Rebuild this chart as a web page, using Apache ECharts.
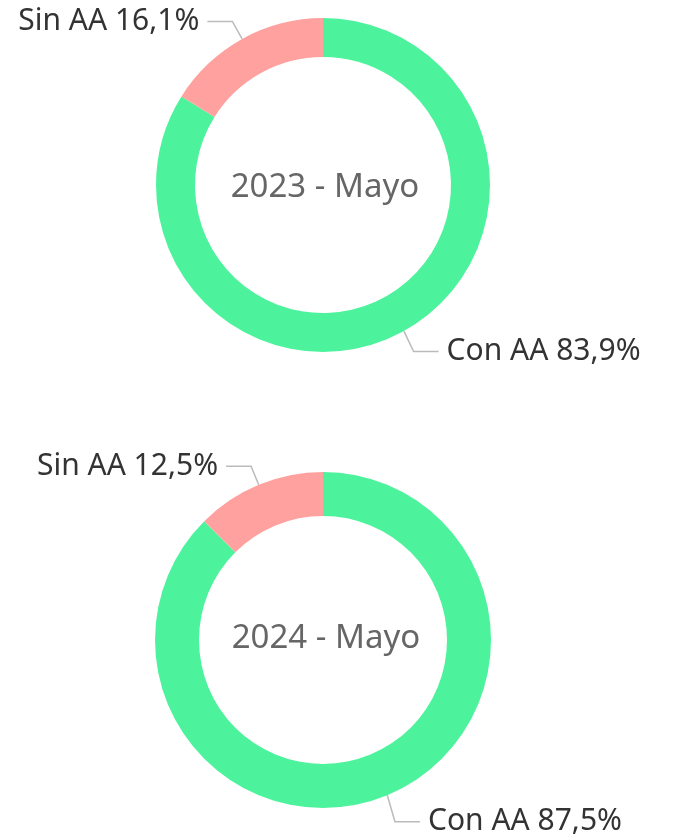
<!DOCTYPE html>
<html>
<head>
<meta charset="utf-8">
<script src="https://cdn.jsdelivr.net/npm/echarts@6/dist/echarts.min.js"></script>
<style>
  html, body { margin: 0; padding: 0; background: #fff; }
  #echart { width: 676px; height: 836px; }
</style>
</head>
<body>
<div id="echart"></div>
<script>
var categories = ['Con AA', 'Sin AA'];
var periods = ['2023 - Mayo', '2024 - Mayo'];
var values2023 = [83.9, 16.1];
var values2024 = [87.5, 12.5];
var colors = ['#4df39c', '#ffa29f'];

function toData(values) {
  return values.map(function (v, i) {
    return { name: categories[i], value: v };
  });
}

function donut(values, center, radius, shiftDown) {
  return {
    type: 'pie',
    radius: radius,
    center: center,
    startAngle: 90,
    clockwise: true,
    avoidLabelOverlap: false,
    silent: true,
    label: {
      show: true,
      position: 'outside',
      formatter: function (p) {
        return p.name + ' ' + p.value.toFixed(1).replace('.', ',') + '%';
      },
      fontFamily: 'Noto Sans',
      fontSize: 30,
      color: '#333',
      distanceToLabelLine: 8
    },
    labelLine: {
      show: true,
      length: 20,
      length2: 25,
      lineStyle: { color: '#bbb', width: 1.5 }
    },
    // push the lower label a little further down, as in the picture
    labelLayout: function (p) {
      if (p.dataIndex !== 0 || !p.labelLinePoints) return {};
      var pts = p.labelLinePoints;
      return {
        dy: shiftDown,
        labelLinePoints: [
          pts[0],
          [pts[1][0], pts[1][1] + shiftDown],
          [pts[2][0], pts[2][1] + shiftDown]
        ]
      };
    },
    data: toData(values)
  };
}

var myChart = echarts.init(document.getElementById('echart'));
var titleStyle = { fontFamily: 'Noto Sans', fontSize: 33, fontWeight: 'normal', color: '#666' };
var option = {
  animation: false,
  color: colors,
  title: [
    {
      text: periods[0],
      left: 320, top: 183,
      textAlign: 'center', textVerticalAlign: 'middle',
      textStyle: titleStyle
    },
    {
      text: periods[1],
      left: 321, top: 634,
      textAlign: 'center', textVerticalAlign: 'middle',
      textStyle: titleStyle
    }
  ],
  series: [
    donut(values2023, [323, 185], [128, 167], 3),
    donut(values2024, [323, 640], [124, 168], 8)
  ]
};
myChart.setOption(option);
</script>
</body>
</html>
